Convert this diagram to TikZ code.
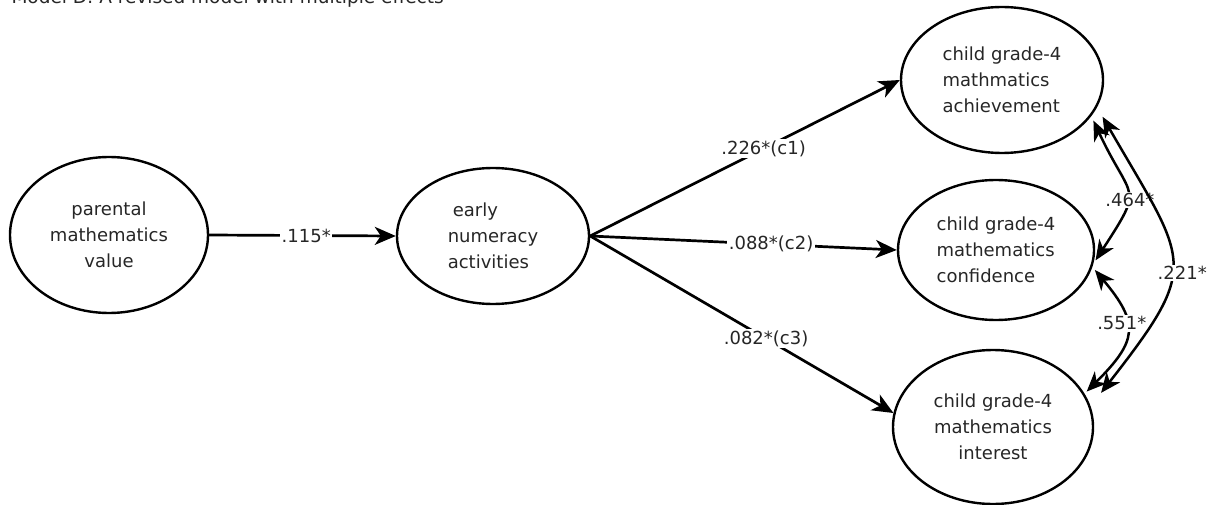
\documentclass[tikz,border=0pt]{standalone}
\usepackage{fontspec}
\setmainfont{DejaVu Sans}
\usetikzlibrary{shapes.geometric,arrows.meta}

\begin{document}
\begin{tikzpicture}[x=1pt,y=-1pt]
\tikzstyle{latent}=[draw, shape=ellipse, line width=2.4pt, inner sep=0pt, text=black!85, font=\fontsize{18}{26}\selectfont]
\tikzstyle{effect}=[line width=2.7pt, -{Stealth[length=21pt,width=18pt,inset=6pt]}]
\tikzstyle{covary}=[line width=2.5pt, {Stealth[length=20pt,width=17pt,inset=6pt]}-{Stealth[length=20pt,width=17pt,inset=6pt]}]
\tikzstyle{coef}=[fill=white, inner sep=1.5pt, text=black!85, font=\fontsize{18}{18}\selectfont]
\useasboundingbox (0,0) rectangle (1217,505);
\node at (8,4) [anchor=base west, text=black!85, font=\fontsize{18.5}{18.5}\selectfont] (title) {Model D: A revised model with multiple effects};
\node at (109,235) [latent, minimum width=198pt, minimum height=156pt, align=center] (parental) {parental\\mathematics\\value};
\node at (493,236) [latent, minimum width=192pt, minimum height=136pt, align=left] (early) {\hspace*{5pt}early\\numeracy\\activities};
\node at (1002,80) [latent, minimum width=202pt, minimum height=146pt, align=left] (achievement) {child grade-4\\mathmatics\\achievement};
\node at (996,250) [latent, minimum width=196pt, minimum height=140pt, align=left] (confidence) {child grade-4\\mathematics\\confidence};
\node at (993,427) [latent, minimum width=200pt, minimum height=154pt, align=center] (interest) {child grade-4\\mathematics\\interest};
\draw[effect] (parental.east) -- node[coef, pos=0.52] {.115*} (early.west);
\draw[effect] (early.east) -- node[coef, pos=0.56] {.226*(c1)} (achievement.180);
\draw[effect] (early.east) -- node[coef, pos=0.59] {.088*(c2)} (confidence.west);
\draw[effect] (early.east) -- node[coef, pos=0.58] {.082*(c3)} (interest.172);
\draw[covary, shorten <=5pt, shorten >=4pt] (achievement.-22) to[out=-65, in=57, looseness=1.65] node[coef, pos=0.58, xshift=3pt] {.464*} (confidence.-8);
\draw[covary, shorten <=4pt, shorten >=3pt] (confidence.-10) to[out=-50, in=45, looseness=1.5] node[coef, pos=0.42, xshift=-4pt] {.551*} (interest.20);
\draw[covary, shorten <=11pt, shorten >=17pt] (achievement.-16) to[out=-60, in=52, looseness=1.55] node[coef, pos=0.55, xshift=13pt] {.221*} (interest.12);
\end{tikzpicture}
\end{document}
